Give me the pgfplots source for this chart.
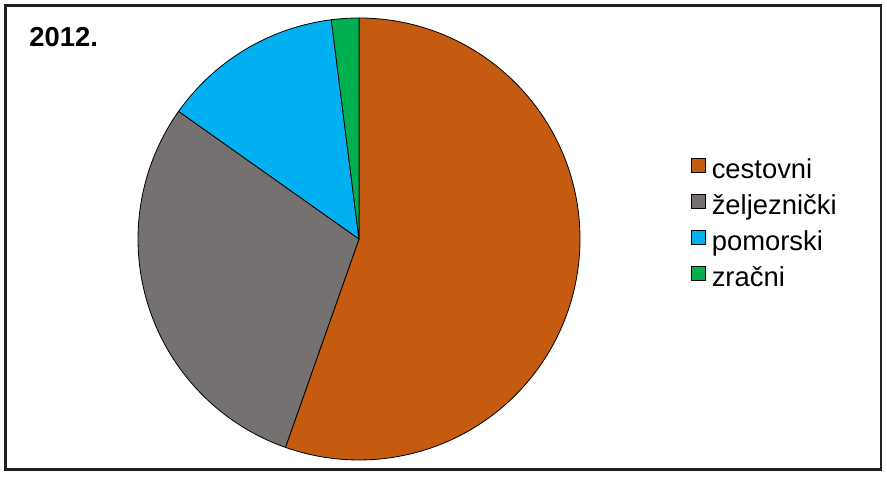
\documentclass[border=0pt]{standalone}
\usepackage{pgfplots}
\pgfplotsset{compat=1.18}
\usepackage{pgfplotstable}
\usepackage{fontspec}
\setmainfont{Liberation Sans}
\definecolor{cOrange}{RGB}{197,90,17}
\definecolor{cGrey}{RGB}{118,113,113}
\definecolor{cBlue}{RGB}{0,176,240}
\definecolor{cGreen}{RGB}{0,176,80}
\definecolor{cFrame}{RGB}{35,31,32}

% shares (%) of the transport modes, 2012
\pgfplotstableread{
value
55.4
29.4
13.2
2.0
}\sharetable

\begin{document}
\begin{tikzpicture}
\pgfplotstablegetelem{0}{value}\of\sharetable \let\vA\pgfplotsretval
\pgfplotstablegetelem{1}{value}\of\sharetable \let\vB\pgfplotsretval
\pgfplotstablegetelem{2}{value}\of\sharetable \let\vC\pgfplotsretval
\pgfplotstablegetelem{3}{value}\of\sharetable \let\vD\pgfplotsretval
\pgfmathsetmacro\aA{90}
\pgfmathsetmacro\aB{\aA-3.6*\vA}
\pgfmathsetmacro\aC{\aB-3.6*\vB}
\pgfmathsetmacro\aD{\aC-3.6*\vC}
\pgfmathsetmacro\aE{\aD-3.6*\vD}
\useasboundingbox (0,0) rectangle (887bp,477bp);
\begin{axis}[
  at={(0,0)}, anchor=origin,
  x=1bp, y=1bp,
  xmin=0, xmax=887, ymin=0, ymax=477,
  hide axis, clip=false,
  legend cell align=left,
  legend style={
    at={(axis cs:691,319.5)}, anchor=north west,
    draw=none, fill=none, inner sep=0pt, outer sep=0pt,
    row sep=8.6bp, column sep=6bp,
    font=\fontsize{27.5}{30}\selectfont,
    nodes={inner sep=0pt, text height=20bp, text depth=6bp},
  },
]
\addlegendimage{legend image code/.code={\filldraw[fill=cOrange,draw=black,line width=0.8bp] (0bp,0bp) rectangle (14bp,14bp);}}
\addlegendimage{legend image code/.code={\filldraw[fill=cGrey,draw=black,line width=0.8bp] (0bp,0bp) rectangle (14bp,14bp);}}
\addlegendimage{legend image code/.code={\filldraw[fill=cBlue,draw=black,line width=0.8bp] (0bp,0bp) rectangle (14bp,14bp);}}
\addlegendimage{legend image code/.code={\filldraw[fill=cGreen,draw=black,line width=0.8bp] (0bp,0bp) rectangle (14bp,14bp);}}
\legend{cestovni, željeznički, pomorski, zračni}

\filldraw[fill=cOrange, draw=black, line width=0.8bp] (axis cs:359,238) -- ++(\aA:221bp) arc[start angle=\aA, end angle=\aB, radius=221bp] -- cycle;
\filldraw[fill=cGrey, draw=black, line width=0.8bp] (axis cs:359,238) -- ++(\aB:221bp) arc[start angle=\aB, end angle=\aC, radius=221bp] -- cycle;
\filldraw[fill=cBlue, draw=black, line width=0.8bp] (axis cs:359,238) -- ++(\aC:221bp) arc[start angle=\aC, end angle=\aD, radius=221bp] -- cycle;
\filldraw[fill=cGreen, draw=black, line width=0.8bp] (axis cs:359,238) -- ++(\aD:221bp) arc[start angle=\aD, end angle=\aE, radius=221bp] -- cycle;

\node[anchor=base west, inner sep=0pt, font=\bfseries\fontsize{27.5}{30}\selectfont] at (axis cs:29.2,430.3) {2012.};
\draw[line width=2.3bp, cFrame] (axis cs:5.5,471.5) rectangle (axis cs:881,7.5);
\end{axis}
\end{tikzpicture}
\end{document}
